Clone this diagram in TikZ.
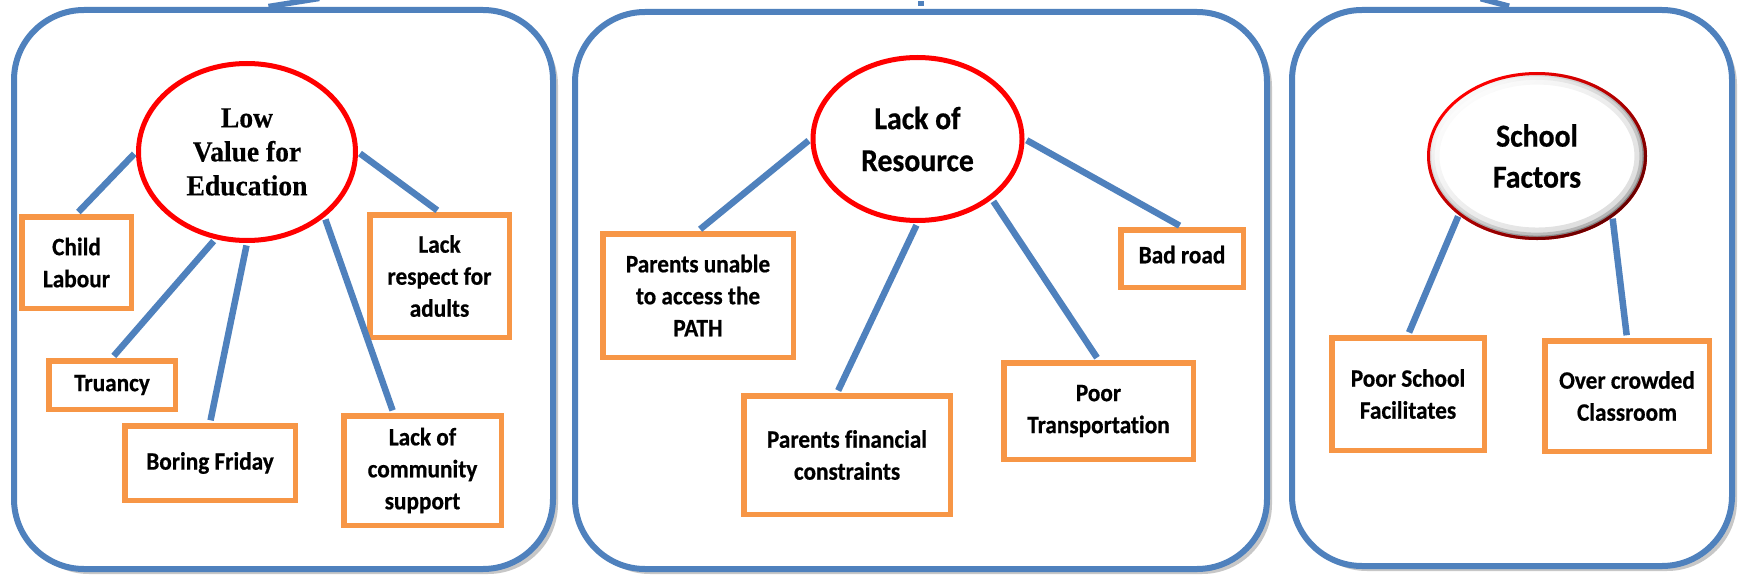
\documentclass[tikz,border=0pt]{standalone}
\usepackage{fontspec}
\usetikzlibrary{shapes.geometric,fadings,shadows}
\newfontfamily\calb{Carlito}[FakeStretch=0.93, FakeBold=0.6, Ligatures=NoCommon]
\newfontfamily\timesb{Liberation Serif}[FakeStretch=0.95, FakeBold=0.4]
\definecolor{pblue}{HTML}{4F81BD}
\definecolor{porange}{HTML}{F79646}
\tikzfading[name=brfade, top color=transparent!100, bottom color=transparent!0]
\begin{document}
\begin{tikzpicture}[x=1pt,y=-1pt,
  panel/.style={draw=pblue, line width=6pt, fill=white, rounded corners=70pt, inner sep=0pt,
    drop shadow={shadow xshift=5pt, shadow yshift=-5pt, opacity=0.22, fill=black}},
  boxnode/.style={draw=porange, line width=5.5pt, fill=white, inner sep=0pt, align=center,
    font=\calb\bfseries\fontsize{25}{32}\selectfont},
  ellnode/.style={ellipse, draw=red, line width=5pt, fill=white, inner sep=0pt, align=center},
  conn/.style={draw=pblue, line width=6.5pt, shorten <=2.5pt, shorten >=2.75pt}]
\clip (0,0) rectangle (1740,583);
\fill[white] (0,0) rectangle (1740,583);
% panels
\node[panel, minimum width=539pt, minimum height=559pt] (p1) at (283.5,289.5) {};
\node[panel, minimum width=692pt, minimum height=557pt] (p2) at (921,290.5) {};
\node[panel, minimum width=440pt, minimum height=556pt] (p3) at (1512,288) {};
\coordinate (t1) at (322,-2);
\coordinate (t2) at (921,-2);
\coordinate (t3) at (1478,-2);
\draw[conn, line width=5.5pt, shorten <=3pt] ([xshift=-18pt]p1.north) -- (t1);
\draw[conn, line width=5.5pt, shorten <=3pt] (p2.north) -- (t2);
\draw[conn, line width=5.5pt, shorten <=3pt] (p3.north) -- (t3);
% panel 1
\node[ellnode, minimum width=217pt, minimum height=177pt,
  font=\timesb\bfseries\fontsize{29}{34}\selectfont] (e1) at (247,152) {Low\\Value for\\Education};
\node[boxnode, minimum width=109.5pt, minimum height=91.5pt] (child) at (76.5,262.5) {Child\\Labour};
\node[boxnode, minimum width=126.5pt, minimum height=48.5pt] (truancy) at (112,385) {Truancy};
\node[boxnode, minimum width=170.5pt, minimum height=74.5pt] (boring) at (210,463) {Boring Friday};
\node[boxnode, minimum width=139.5pt, minimum height=122.5pt] (respect) at (439.5,276) {Lack\\respect for\\adults};
\node[boxnode, minimum width=157.5pt, minimum height=109.5pt] (community) at (422.5,470.5) {Lack of\\community\\support};
% panel 2
\node[ellnode, minimum width=209pt, minimum height=163pt,
  font=\calb\bfseries\fontsize{32}{42}\selectfont] (e2) at (917.5,139) {Lack of\\Resource};
\node[boxnode, minimum width=190.5pt, minimum height=123.5pt] (unable) at (698,295.5) {Parents unable\\to access the\\PATH};
\node[boxnode, minimum width=206.5pt, minimum height=118.5pt] (fin) at (847,455) {Parents financial\\constraints};
\node[boxnode, minimum width=189.5pt, minimum height=96.5pt] (transport) at (1098.5,411) {Poor\\Transportation};
\node[boxnode, minimum width=122.5pt, minimum height=57.5pt] (badroad) at (1182,258.5) {\raisebox{8pt}{Bad road}};
% panel 3
\node[ellipse, draw=red, line width=3pt, fill=white, inner sep=0pt, align=center,
  minimum width=217pt, minimum height=165pt,
  font=\calb\bfseries\fontsize{32}{41}\selectfont] (e3) at (1537,156) {School\\Factors};
\begin{scope}
  \clip (e3.center) ellipse [x radius=107pt, y radius=81pt];
  \draw[black, line width=22pt, draw opacity=0.14, path fading=brfade, fading angle=45]
    (e3.center) ellipse [x radius=108.5pt, y radius=82.5pt];
  \draw[black, line width=12pt, draw opacity=0.2, path fading=brfade, fading angle=45]
    (e3.center) ellipse [x radius=108.5pt, y radius=82.5pt];
  \draw[black, line width=6pt, draw opacity=0.28, path fading=brfade, fading angle=45]
    (e3.center) ellipse [x radius=108.5pt, y radius=82.5pt];
\end{scope}
\draw[red!40!black, line width=3pt, path fading=brfade, fading angle=45]
  (e3.center) ellipse [x radius=108.5pt, y radius=82.5pt];
\node[boxnode, minimum width=152.5pt, minimum height=112.5pt] (poorschool) at (1408,394) {Poor School\\Facilitates};
\node[boxnode, minimum width=164.5pt, minimum height=110.5pt] (overcrowded) at (1627,396) {Over crowded\\Classroom};
% connectors
\draw[conn] (e1.180) -- (child.north);
\draw[conn] (e1.250) -- (truancy.north);
\draw[conn] (e1.270) -- (boring.north);
\draw[conn] (e1.320) -- ([xshift=-29pt]community.north);
\draw[conn] (e1.0) -- (respect.north);
\draw[conn] (e2.180) -- (unable.north);
\draw[conn] (e2.270) -- ([xshift=-10pt]fin.north);
\draw[conn] (e2.321) -- (transport.north);
\draw[conn] (e2.0) -- (badroad.north);
\draw[conn, shorten <=1.5pt] (e3.217) -- (poorschool.north);
\draw[conn, shorten <=1.5pt] (e3.321) -- (overcrowded.north);
\end{tikzpicture}
\end{document}
